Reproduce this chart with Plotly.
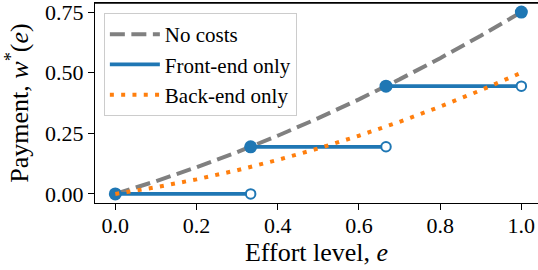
import plotly.graph_objects as go

# Effort levels sampled along the smooth curves
effort = [0.0, 0.1, 0.2, 0.3, 0.4, 0.5, 0.6, 0.7, 0.8, 0.9, 1.0]
no_costs = [0.0, 0.0525, 0.11, 0.1725, 0.24, 0.3125, 0.39, 0.4725, 0.56, 0.6525, 0.75]
back_end = [0.0, 0.0275, 0.06, 0.0975, 0.14, 0.1875, 0.24, 0.2975, 0.36, 0.4275, 0.5]

# Front-end only: step function
step_start = [0.0, 1/3, 2/3]
step_end = [1/3, 2/3, 1.0]
step_level = [0.0, 0.1944, 0.4444]
final_point_x = [1.0]
final_point_y = [0.75]

x_ticks = [0.0, 0.2, 0.4, 0.6, 0.8, 1.0]
y_ticks = [0.0, 0.25, 0.5, 0.75]

BLUE = "#1f77b4"
ORANGE = "#ff7f0e"
GRAY = "#808080"
FONT = "Liberation Serif, Times New Roman, serif"

seg_x, seg_y = [], []
for s, e, lv in zip(step_start, step_end, step_level):
    seg_x += [s, e, None]
    seg_y += [lv, lv, None]

fig = go.Figure()
fig.add_trace(go.Scatter(x=effort, y=no_costs, mode="lines", name="No costs",
                         line=dict(color=GRAY, width=4, dash="15px,6.5px")))
fig.add_trace(go.Scatter(x=seg_x, y=seg_y, mode="lines", name="Front-end only",
                         line=dict(color=BLUE, width=3.8)))
fig.add_trace(go.Scatter(x=step_start + final_point_x, y=step_level + final_point_y,
                         mode="markers", showlegend=False,
                         marker=dict(color=BLUE, size=13, line=dict(width=0))))
fig.add_trace(go.Scatter(x=step_end, y=step_level, mode="markers", showlegend=False,
                         marker=dict(color="white", size=9.5, line=dict(color=BLUE, width=2))))
fig.add_trace(go.Scatter(x=effort, y=back_end, mode="lines", name="Back-end only",
                         line=dict(color=ORANGE, width=4, dash="4px,7.3px")))

fig.update_layout(
    width=538, height=270,
    margin=dict(l=95, r=0, t=3, b=67),
    paper_bgcolor="white", plot_bgcolor="white",
    font=dict(family=FONT, size=22, color="black"),
    showlegend=True,
    legend=dict(x=0.02, y=0.95, xanchor="left", yanchor="top",
                bgcolor="rgba(255,255,255,0.8)", bordercolor="#cccccc", borderwidth=1,
                font=dict(family=FONT, size=21), itemwidth=50, tracegroupgap=0),
    shapes=[dict(type="line", xref="paper", yref="paper", x0=0, x1=1, y0=1, y1=1,
                 line=dict(color="black", width=1.3), layer="above")],
)
fig.update_xaxes(range=[-0.05, 1.041], tickvals=x_ticks, tickformat=".1f",
                 showline=True, mirror=True, linecolor="black", linewidth=1.3,
                 ticks="outside", ticklen=6, tickwidth=1.3, tickcolor="black",
                 showgrid=False, zeroline=False, automargin=False,
                 ticklabeloverflow="allow", ticklabelstandoff=-4,
                 title=dict(text="Effort level, <i>e</i>", standoff=0))
fig.update_yaxes(range=[-0.0375, 0.7875], tickvals=y_ticks, tickformat=".2f",
                 showline=True, mirror=False, linecolor="black", linewidth=1.3,
                 ticks="outside", ticklen=6, tickwidth=1.3, tickcolor="black",
                 showgrid=False, zeroline=False, automargin=False,
                 ticklabeloverflow="allow",
                 title=dict(text="Payment, <i>w</i><sup>*</sup>(<i>e</i>)", standoff=8))

fig.write_html("out.html", config={"displayModeBar": False},
               post_script="document.body.style.margin='0px';")
